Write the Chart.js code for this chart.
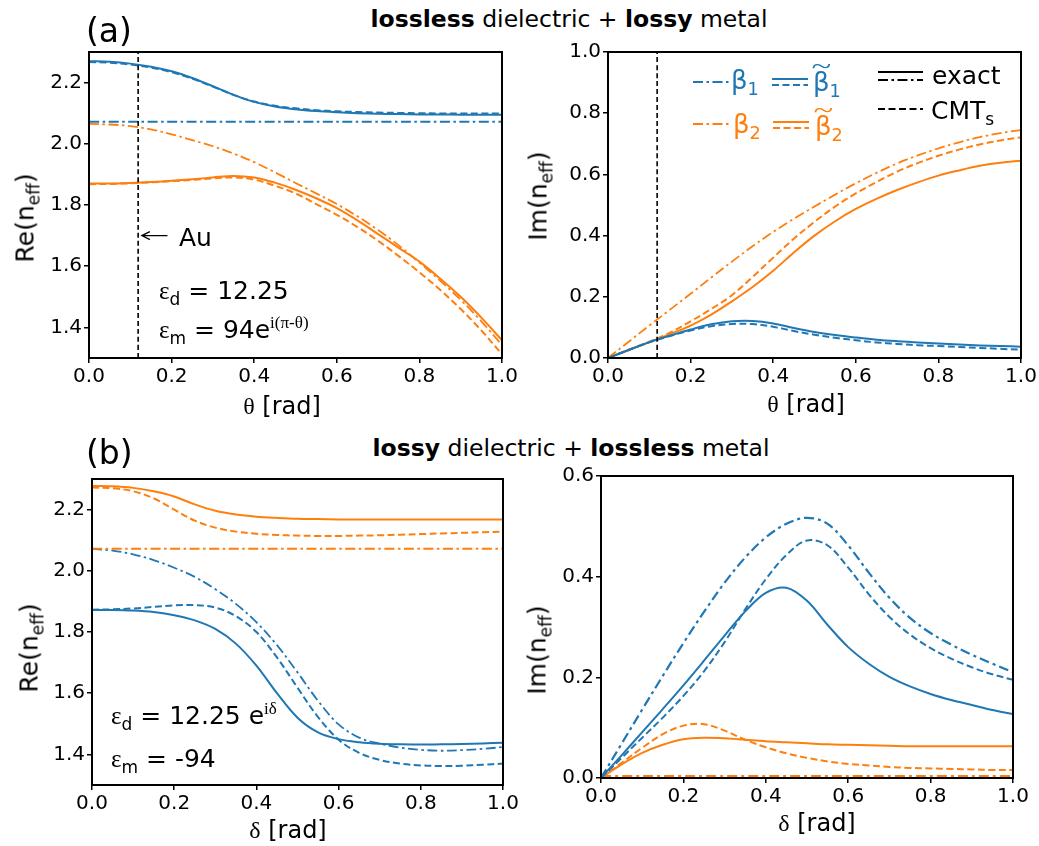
<!DOCTYPE html>
<html>
<head>
<meta charset="utf-8">
<script src="https://cdn.jsdelivr.net/npm/chart.js@4.4.1/dist/chart.umd.min.js"></script>
<style>
  body { margin: 0; background: #fff; width: 1039px; height: 846px; position: relative; overflow: hidden;
         font-family: "DejaVu Sans", sans-serif; color: #000; }
  .wrap { position: absolute; }
  .t { position: absolute; white-space: nowrap; line-height: 1; transform: translate(-50%, -50%); }
  .l { position: absolute; white-space: nowrap; line-height: 1; transform: translate(0, -50%); }
  .rot { transform: translate(-50%, -50%) rotate(-90deg); }
  .g { font-family: "Liberation Serif", serif; }
  sub, sup { font-size: 0.68em; line-height: 0; }
  .tl { position: relative; display: inline-block; }
  .tl i { position: absolute; left: 0; right: 0; top: -0.62em; text-align: center; font-style: normal;
          font-family: "Liberation Serif", serif; transform: scaleX(1.4); }
</style>
</head>
<body>

<div class="wrap" id="wa1"><canvas></canvas></div>
<div class="wrap" id="wa2"><canvas></canvas></div>
<div class="wrap" id="wb1"><canvas></canvas></div>
<div class="wrap" id="wb2"><canvas></canvas></div>

<!-- titles -->
<div class="l" style="left:86px;top:30px;font-size:33px">(a)</div>
<div class="t" style="left:569px;top:20px;font-size:23.5px"><b>lossless</b> dielectric + <b>lossy</b> metal</div>
<div class="l" style="left:86px;top:452px;font-size:33px">(b)</div>
<div class="t" style="left:571px;top:449px;font-size:23.5px"><b>lossy</b> dielectric + <b>lossless</b> metal</div>

<!-- axis titles -->
<div class="t rot" style="left:25px;top:218px;font-size:25px">Re(n<sub>eff</sub>)</div>
<div class="t" style="left:282px;top:406px;font-size:24px"><span class="g">θ</span> [rad]</div>
<div class="t rot" style="left:538px;top:196px;font-size:25px">Im(n<sub>eff</sub>)</div>
<div class="t" style="left:806px;top:404px;font-size:24px"><span class="g">θ</span> [rad]</div>
<div class="t rot" style="left:29px;top:648px;font-size:25px">Re(n<sub>eff</sub>)</div>
<div class="t" style="left:288px;top:830px;font-size:24px"><span class="g">δ</span> [rad]</div>
<div class="t rot" style="left:537px;top:650px;font-size:25px">Im(n<sub>eff</sub>)</div>
<div class="t" style="left:817px;top:823px;font-size:24px"><span class="g">δ</span> [rad]</div>

<!-- annotations -->
<div class="l" style="left:179px;top:237px;font-size:25px">Au</div>
<div class="l" style="left:159px;top:290px;font-size:25px"><span class="g">ε</span><sub>d</sub> = 12.25</div>
<div class="l" style="left:159px;top:329px;font-size:25px"><span class="g">ε</span><sub>m</sub> = 94e<sup class="g">i(π-θ)</sup></div>
<div class="l" style="left:111px;top:715px;font-size:25px"><span class="g">ε</span><sub>d</sub> = 12.25 e<sup class="g">iδ</sup></div>
<div class="l" style="left:111px;top:758px;font-size:25px"><span class="g">ε</span><sub>m</sub> = -94</div>

<!-- legend text -->
<div class="l" style="left:731px;top:80px;font-size:26px;color:#1f77b4">β<sub>1</sub></div>
<div class="l" style="left:813px;top:82px;font-size:26px;color:#1f77b4"><span class="tl">β<i>~</i></span><sub>1</sub></div>
<div class="l" style="left:733px;top:124px;font-size:26px;color:#ff7f0e">β<sub>2</sub></div>
<div class="l" style="left:815px;top:126px;font-size:26px;color:#ff7f0e"><span class="tl">β<i>~</i></span><sub>2</sub></div>
<div class="l" style="left:932px;top:75px;font-size:25px">exact</div>
<div class="l" style="left:931px;top:110px;font-size:25px">CMT<sub>s</sub></div>

<script>
// shared x grid (rad) and the ends used by the constant lines
const xGrid = [0, 0.05, 0.1, 0.15, 0.2, 0.25, 0.3, 0.35, 0.4, 0.45, 0.5, 0.55, 0.6, 0.65, 0.7, 0.75, 0.8, 0.85, 0.9, 0.95, 1.0];
const xEnds = [0, 1];
const xTicks = [0, 0.2, 0.4, 0.6, 0.8, 1.0];
const yTicksRe = [1.4, 1.6, 1.8, 2.0, 2.2];
const yTicksImA = [0, 0.2, 0.4, 0.6, 0.8, 1.0];
const yTicksImB = [0, 0.2, 0.4, 0.6];

// (a) lossless dielectric + lossy metal, vs theta
const auTheta = 0.119;
const reA_b1 = [2.072, 2.072];
const reA_b2 = [2.065, 2.063, 2.058, 2.047, 2.031, 2.012, 1.992, 1.968, 1.940, 1.907, 1.872, 1.838, 1.803, 1.763, 1.718, 1.668, 1.612, 1.553, 1.490, 1.420, 1.342];
const reA_b1t_exact = [2.270, 2.268, 2.262, 2.252, 2.237, 2.215, 2.188, 2.160, 2.137, 2.122, 2.113, 2.107, 2.103, 2.100, 2.098, 2.097, 2.096, 2.096, 2.095, 2.095, 2.095];
const reA_b1t_cmt = [2.267, 2.265, 2.259, 2.249, 2.234, 2.213, 2.187, 2.160, 2.138, 2.124, 2.116, 2.110, 2.106, 2.104, 2.102, 2.101, 2.100, 2.099, 2.099, 2.099, 2.099];
const reA_b2t_exact = [1.870, 1.870, 1.872, 1.875, 1.879, 1.884, 1.890, 1.895, 1.890, 1.873, 1.850, 1.822, 1.790, 1.750, 1.705, 1.660, 1.615, 1.560, 1.500, 1.432, 1.358];
const reA_b2t_cmt = [1.868, 1.869, 1.871, 1.874, 1.878, 1.882, 1.887, 1.890, 1.883, 1.863, 1.838, 1.803, 1.768, 1.728, 1.683, 1.633, 1.580, 1.523, 1.460, 1.390, 1.312];

const imA_b2 = [0, 0.053, 0.106, 0.158, 0.210, 0.263, 0.315, 0.365, 0.412, 0.455, 0.495, 0.534, 0.571, 0.605, 0.636, 0.662, 0.685, 0.705, 0.722, 0.735, 0.745];
const imA_b1t_exact = [0, 0.026, 0.052, 0.073, 0.093, 0.110, 0.120, 0.121, 0.113, 0.098, 0.085, 0.075, 0.067, 0.060, 0.055, 0.051, 0.047, 0.044, 0.041, 0.039, 0.037];
const imA_b1t_cmt = [0, 0.026, 0.051, 0.072, 0.090, 0.104, 0.111, 0.111, 0.102, 0.088, 0.076, 0.066, 0.058, 0.051, 0.046, 0.042, 0.039, 0.036, 0.033, 0.030, 0.027];
const imA_b2t_exact = [0, 0.026, 0.052, 0.078, 0.106, 0.142, 0.185, 0.232, 0.285, 0.345, 0.400, 0.447, 0.487, 0.520, 0.549, 0.574, 0.596, 0.613, 0.628, 0.638, 0.645];
const imA_b2t_cmt = [0, 0.027, 0.053, 0.083, 0.120, 0.160, 0.205, 0.265, 0.328, 0.390, 0.445, 0.495, 0.538, 0.575, 0.609, 0.637, 0.661, 0.681, 0.698, 0.711, 0.721];

// (b) lossy dielectric + lossless metal, vs delta
const reB_b1 = [2.072, 2.066, 2.054, 2.035, 2.010, 1.980, 1.940, 1.892, 1.832, 1.757, 1.668, 1.575, 1.498, 1.455, 1.435, 1.422, 1.415, 1.412, 1.414, 1.418, 1.424];
const reB_b2 = [2.072, 2.072];
const reB_b1t_exact = [1.872, 1.872, 1.870, 1.865, 1.855, 1.838, 1.810, 1.762, 1.690, 1.600, 1.520, 1.472, 1.450, 1.440, 1.435, 1.433, 1.432, 1.433, 1.434, 1.436, 1.438];
const reB_b1t_cmt = [1.873, 1.874, 1.877, 1.882, 1.887, 1.888, 1.880, 1.852, 1.800, 1.717, 1.618, 1.522, 1.448, 1.405, 1.382, 1.370, 1.364, 1.362, 1.363, 1.366, 1.370];
const reB_b2t_exact = [2.277, 2.276, 2.271, 2.260, 2.243, 2.217, 2.196, 2.184, 2.177, 2.173, 2.170, 2.169, 2.168, 2.168, 2.168, 2.168, 2.168, 2.168, 2.168, 2.168, 2.168];
const reB_b2t_cmt = [2.272, 2.270, 2.260, 2.237, 2.200, 2.164, 2.141, 2.128, 2.121, 2.117, 2.115, 2.114, 2.114, 2.115, 2.116, 2.118, 2.120, 2.122, 2.124, 2.126, 2.128];

const imB_b1 = [0, 0.068, 0.136, 0.203, 0.268, 0.330, 0.388, 0.438, 0.478, 0.505, 0.517, 0.505, 0.462, 0.408, 0.358, 0.318, 0.288, 0.265, 0.245, 0.227, 0.210];
const imB_b2 = [0.004, 0.004];
const imB_b1t_exact = [0, 0.045, 0.091, 0.137, 0.184, 0.233, 0.283, 0.331, 0.368, 0.378, 0.352, 0.304, 0.260, 0.227, 0.201, 0.182, 0.167, 0.155, 0.145, 0.135, 0.127];
const imB_b1t_cmt = [0, 0.040, 0.080, 0.120, 0.163, 0.212, 0.270, 0.335, 0.395, 0.443, 0.472, 0.462, 0.418, 0.365, 0.320, 0.285, 0.258, 0.237, 0.220, 0.206, 0.195];
const imB_b2t_exact = [0, 0.027, 0.050, 0.066, 0.077, 0.080, 0.079, 0.076, 0.073, 0.071, 0.069, 0.067, 0.066, 0.065, 0.064, 0.063, 0.063, 0.063, 0.063, 0.063, 0.063];
const imB_b2t_cmt = [0, 0.030, 0.060, 0.087, 0.104, 0.107, 0.094, 0.076, 0.061, 0.049, 0.040, 0.033, 0.028, 0.025, 0.022, 0.020, 0.019, 0.018, 0.017, 0.016, 0.016];

const BLUE = '#1f77b4';
const ORANGE = '#ff7f0e';
const SOLID = { dash: [], width: 2 };
const DASH = { dash: [7, 3.5], width: 2 };
const DASHDOT = { dash: [10, 3.5, 2.5, 3.5], width: 1.8 };
const DASHDOT_B = { dash: [10, 4, 3, 4], width: 2.2 };
const VLINE = { dash: [5, 3], width: 1.6 };

const YW = 70, XH = 40, PT = 12, PR = 20;

Chart.defaults.font.family = 'DejaVu Sans';
Chart.defaults.font.size = 20;
Chart.defaults.color = '#000';

function line(xs, ys, color, style) {
  return {
    data: xs.map((x, i) => ({ x: x, y: ys[i] })),
    borderColor: color,
    borderWidth: style.width,
    borderDash: style.dash,
    pointRadius: 0,
    fill: false,
    tension: 0.35
  };
}

const frame = {
  id: 'frame',
  afterDraw(chart) {
    const a = chart.chartArea, ctx = chart.ctx;
    ctx.save();
    ctx.strokeStyle = '#000';
    ctx.lineWidth = 2;
    ctx.strokeRect(a.left, a.top, a.right - a.left, a.bottom - a.top);
    ctx.restore();
  }
};

function makeChart(id, box, datasets, yMin, yMax, yTicks, extra) {
  const wrap = document.getElementById(id);
  wrap.style.left = (box.l - YW) + 'px';
  wrap.style.top = (box.t - PT) + 'px';
  wrap.style.width = (box.r - box.l + YW + PR) + 'px';
  wrap.style.height = (box.b - box.t + PT + XH) + 'px';
  const tickFont = { family: 'DejaVu Sans', size: 20 };
  const grid = { drawOnChartArea: false, drawTicks: true, tickLength: 5, color: '#000', lineWidth: 1.5 };
  return new Chart(wrap.querySelector('canvas'), {
    type: 'line',
    data: { datasets: datasets },
    options: {
      responsive: true,
      maintainAspectRatio: false,
      animation: false,
      layout: { padding: { top: PT, right: PR, left: 0, bottom: 0 } },
      plugins: { legend: { display: false }, tooltip: { enabled: false } },
      scales: {
        x: {
          type: 'linear', min: 0, max: 1,
          grid: grid, border: { display: false },
          ticks: { font: tickFont, color: '#000', padding: 2, maxRotation: 0, callback: v => v.toFixed(1) },
          afterBuildTicks: s => { s.ticks = xTicks.map(v => ({ value: v })); },
          afterFit: s => { s.height = XH; s.paddingLeft = 0; s.paddingRight = 0; }
        },
        y: {
          type: 'linear', min: yMin, max: yMax,
          grid: grid, border: { display: false },
          ticks: { font: tickFont, color: '#000', padding: 2, callback: v => v.toFixed(1) },
          afterBuildTicks: s => { s.ticks = yTicks.map(v => ({ value: v })); },
          afterFit: s => { s.width = YW; s.paddingTop = 0; s.paddingBottom = 0; }
        }
      }
    },
    plugins: [frame].concat(extra || [])
  });
}

// arrow pointing at the Au line
const auArrowFrom = 0.19, auArrowTo = 0.128, auArrowAt = 1.7;
const auArrow = {
  id: 'auArrow',
  afterDatasetsDraw(chart) {
    const sx = chart.scales.x, sy = chart.scales.y, ctx = chart.ctx;
    const x0 = sx.getPixelForValue(auArrowFrom), x1 = sx.getPixelForValue(auArrowTo), y = sy.getPixelForValue(auArrowAt);
    ctx.save();
    ctx.strokeStyle = '#000';
    ctx.lineWidth = 1.3;
    ctx.beginPath();
    ctx.moveTo(x0, y); ctx.lineTo(x1, y);
    ctx.moveTo(x1 + 8, y - 4); ctx.lineTo(x1, y); ctx.lineTo(x1 + 8, y + 4);
    ctx.stroke();
    ctx.restore();
  }
};

// legend line samples for panel (a) right, in page pixels
const legendSamples = [
  { x0: 693, x1: 730, y: 82, color: BLUE, style: DASHDOT },
  { x0: 772, x1: 808, y: 79, color: BLUE, style: SOLID },
  { x0: 772, x1: 808, y: 85, color: BLUE, style: DASH },
  { x0: 693, x1: 730, y: 124, color: ORANGE, style: DASHDOT },
  { x0: 773, x1: 809, y: 122, color: ORANGE, style: SOLID },
  { x0: 773, x1: 809, y: 128, color: ORANGE, style: DASH },
  { x0: 878, x1: 923, y: 72, color: '#000', style: SOLID },
  { x0: 878, x1: 923, y: 80, color: '#000', style: DASHDOT },
  { x0: 878, x1: 923, y: 109, color: '#000', style: DASH }
];
function legendPlugin(box) {
  return {
    id: 'legendSamples',
    afterDraw(chart) {
      const ctx = chart.ctx, ox = box.l - YW, oy = box.t - PT;
      ctx.save();
      legendSamples.forEach(s => {
        ctx.strokeStyle = s.color;
        ctx.lineWidth = s.style.width;
        ctx.setLineDash(s.style.dash);
        ctx.beginPath();
        ctx.moveTo(s.x0 - ox, s.y - oy);
        ctx.lineTo(s.x1 - ox, s.y - oy);
        ctx.stroke();
      });
      ctx.restore();
    }
  };
}

const boxA1 = { l: 89, t: 52, r: 502, b: 358 };
const boxA2 = { l: 608, t: 52, r: 1021, b: 358 };
const boxB1 = { l: 92, t: 479, r: 503, b: 785 };
const boxB2 = { l: 601, t: 476, r: 1013, b: 778 };

makeChart('wa1', boxA1, [
  line([auTheta, auTheta], [1.3, 2.3], '#000', VLINE),
  line(xGrid, reA_b1t_exact, BLUE, SOLID),
  line(xGrid, reA_b1t_cmt, BLUE, DASH),
  line(xEnds, reA_b1, BLUE, DASHDOT),
  line(xGrid, reA_b2t_exact, ORANGE, SOLID),
  line(xGrid, reA_b2t_cmt, ORANGE, DASH),
  line(xGrid, reA_b2, ORANGE, DASHDOT)
], 1.3, 2.3, yTicksRe, [auArrow]);

makeChart('wa2', boxA2, [
  line([auTheta, auTheta], [0, 1], '#000', VLINE),
  line(xGrid, imA_b1t_exact, BLUE, SOLID),
  line(xGrid, imA_b1t_cmt, BLUE, DASH),
  line(xGrid, imA_b2t_exact, ORANGE, SOLID),
  line(xGrid, imA_b2t_cmt, ORANGE, DASH),
  line(xGrid, imA_b2, ORANGE, DASHDOT)
], 0, 1, yTicksImA, [legendPlugin(boxA2)]);

makeChart('wb1', boxB1, [
  line(xGrid, reB_b2t_exact, ORANGE, SOLID),
  line(xGrid, reB_b2t_cmt, ORANGE, DASH),
  line(xEnds, reB_b2, ORANGE, DASHDOT),
  line(xGrid, reB_b1t_exact, BLUE, SOLID),
  line(xGrid, reB_b1t_cmt, BLUE, DASH),
  line(xGrid, reB_b1, BLUE, DASHDOT)
], 1.3, 2.3, yTicksRe);

makeChart('wb2', boxB2, [
  line(xGrid, imB_b1t_exact, BLUE, SOLID),
  line(xGrid, imB_b1t_cmt, BLUE, DASH),
  line(xGrid, imB_b1, BLUE, DASHDOT_B),
  line(xGrid, imB_b2t_exact, ORANGE, SOLID),
  line(xGrid, imB_b2t_cmt, ORANGE, DASH),
  line(xEnds, imB_b2, ORANGE, DASHDOT_B)
], 0, 0.6, yTicksImB);
</script>
</body>
</html>
